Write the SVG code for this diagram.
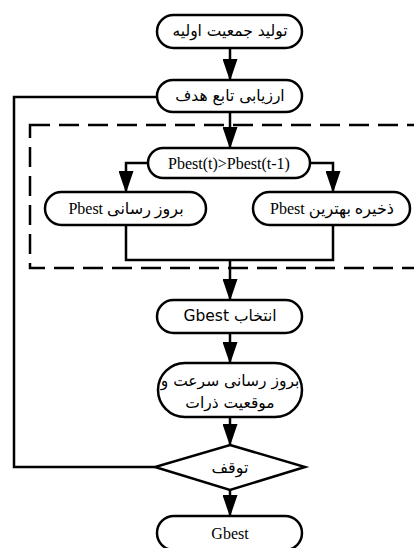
<svg xmlns="http://www.w3.org/2000/svg" width="414" height="548" viewBox="0 0 414 548">
<style>
.box{fill:#fff;stroke:#000;stroke-width:2.5}
.ln{fill:none;stroke:#000;stroke-width:2.5}
.arr{fill:none;stroke:#000;stroke-width:2.5;marker-end:url(#ah)}
.sans{font-family:"DejaVu Sans",sans-serif;font-size:15.5px;fill:#000}
.ser{font-family:"Liberation Serif","DejaVu Sans",serif;font-size:16px;fill:#000}
text{text-anchor:middle;dominant-baseline:central}
</style>
<defs>
<marker id="ah" markerUnits="userSpaceOnUse" markerWidth="22" markerHeight="15" refX="21" refY="7.5" orient="auto">
<path d="M0,0 L22,7.5 L0,15 z" fill="#000"/>
</marker>
</defs>
<rect x="30" y="125" width="400" height="143" fill="none" stroke="#000" stroke-width="2.5" stroke-dasharray="20 9"/>
<g id="connectors">
<path class="arr" d="M230,48 V80"/>
<path class="arr" d="M230,112 V148"/>
<path class="ln" d="M157,97 H14 V467 H155"/>
<path class="arr" d="M148,163 H126 V192"/>
<path class="arr" d="M310,163 H333 V192"/>
<path class="ln" d="M126,225 V260 H333 V225"/>
<path class="arr" d="M230,260 V300"/>
<path class="arr" d="M230,333 V363"/>
<path class="arr" d="M230,417 V445"/>
<path class="arr" d="M230,490 V516"/>
</g>
<g id="n1"><rect class="box" x="157" y="15" width="145" height="33" rx="16.5"/><text class="sans" x="230" y="31" direction="rtl">تولید جمعیت اولیه</text></g>
<g id="n2"><rect class="box" x="157" y="80" width="145" height="32" rx="16"/><text class="sans" x="230" y="96" direction="rtl">ارزیابی تابع هدف</text></g>
<g id="n3"><rect class="box" x="148" y="148" width="162" height="30" rx="15"/><text class="ser" x="229" y="163">Pbest(t)&gt;Pbest(t-1)</text></g>
<g id="n4"><rect class="box" x="45" y="192" width="161" height="33" rx="16.5"/><text class="ser" x="126" y="208" direction="rtl">بروز رسانی Pbest</text></g>
<g id="n5"><rect class="box" x="253" y="192" width="157" height="33" rx="16.5"/><text class="ser" x="332" y="208" direction="rtl">ذخیره بهترین Pbest</text></g>
<g id="n6"><rect class="box" x="157" y="300" width="145" height="33" rx="16.5"/><text class="sans" x="230" y="316" direction="rtl">انتخاب Gbest</text></g>
<g id="n7"><rect class="box" x="158" y="363" width="144" height="54" rx="27"/><text class="sans" x="230" y="381" direction="rtl">بروز رسانی سرعت و</text><text class="sans" x="230" y="403" direction="rtl">موقعیت ذرات</text></g>
<g id="n8"><path class="box" d="M230,445 L305,467 L230,490 L155,467 Z"/><text class="ser" x="230" y="467" direction="rtl">توقف</text></g>
<g id="n9"><rect class="box" x="157" y="516" width="145" height="34" rx="17"/><text class="ser" x="230" y="533">Gbest</text></g>
</svg>
